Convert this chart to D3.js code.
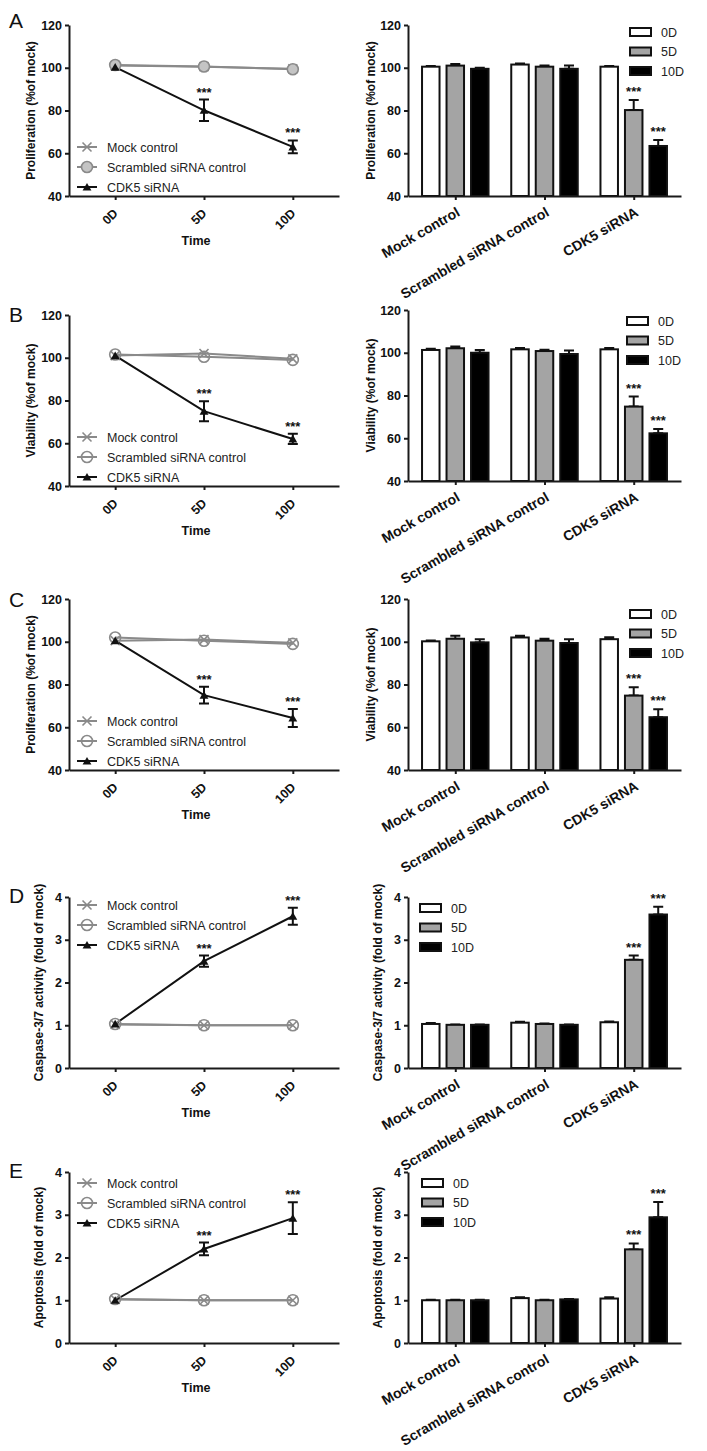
<!DOCTYPE html>
<html><head><meta charset="utf-8">
<script src="https://cdn.jsdelivr.net/npm/d3@7"></script>
<style>
body{margin:0;background:#fff;}
svg{display:block;font-family:"Liberation Sans",Arial,sans-serif;}
</style></head><body>
<svg id="chart" width="707" height="1451"></svg>
<script>
// ---------- data ----------
const times = ["0D", "5D", "10D"];
const groups = ["Mock control", "Scrambled siRNA control", "CDK5 siRNA"];
const seriesNames = ["Mock control", "Scrambled siRNA control", "CDK5 siRNA"];
const letters = ["A", "B", "C", "D", "E"];
const leftYLabels = ["Proliferation (%of mock)", "Viability (%of mock)", "Proliferation (%of mock)", "Caspase-3/7 activity (fold of mock)", "Apoptosis (fold of mock)"];
const rightYLabels = ["Proliferation (%of mock)", "Viability (%of mock)", "Viability (%of mock)", "Caspase-3/7 activity (fold of mock)", "Apoptosis (fold of mock)"];
const pctTicks = [40, 60, 80, 100, 120];
const foldTicks = [0, 1, 2, 3, 4];
const sigMarks = ["", "***", "***"]; // CDK5 siRNA vs control, per time point

// line charts: rows = [Mock, Scrambled, CDK5], cols = times
const lineA = [[101, 100.5, 99.5], [101.3, 100.6, 99.3], [100.3, 80.1, 63]];
const lineB = [[101, 102, 99.5], [101.5, 100.5, 99], [101, 75, 62]];
const lineC = [[100.5, 101, 99.5], [102, 100.5, 99], [100.5, 75, 64.3]];
const lineD = [[1.02, 1.0, 1.0], [1.03, 1.0, 1.0], [1.03, 2.5, 3.55]];
const lineE = [[1.02, 1.0, 1.0], [1.03, 1.0, 1.0], [1.0, 2.2, 2.92]];
// CDK5 siRNA error (SD) per time point
const lineErrA = [0, 5, 3];
const lineErrB = [0, 4.7, 2.4];
const lineErrC = [0, 3.9, 4.2];
const lineErrD = [0, 0.13, 0.2];
const lineErrE = [0, 0.15, 0.37];

// bar charts: rows = groups, cols = times
const barA = [[100.5, 101, 99.5], [101.5, 100.5, 99.5], [100.5, 80.2, 63.4]];
const barB = [[101.3, 102.1, 100], [101.6, 100.8, 99.4], [101.6, 74.8, 62.3]];
const barC = [[100.2, 101.4, 99.7], [102, 100.5, 99.4], [101.2, 74.8, 64.7]];
const barD = [[1.03, 1.01, 1.01], [1.06, 1.03, 1.01], [1.07, 2.53, 3.59]];
const barE = [[1.0, 1.0, 1.0], [1.05, 1.0, 1.02], [1.04, 2.19, 2.94]];
const barErrA = [[0.3, 0.8, 0.5], [0.5, 0.5, 1.5], [0.3, 4.7, 2.8]];
const barErrB = [[0.6, 0.8, 1.3], [0.6, 0.6, 1.6], [0.6, 4.7, 2.0]];
const barErrC = [[0.4, 1.4, 1.5], [0.8, 0.9, 1.8], [0.9, 3.9, 3.7]];
const barErrD = [[0.02, 0.01, 0.01], [0.02, 0.01, 0.01], [0.02, 0.1, 0.18]];
const barErrE = [[0.01, 0.01, 0.01], [0.02, 0.01, 0.01], [0.03, 0.14, 0.36]];

const lineSets = [lineA, lineB, lineC, lineD, lineE];
const lineErrSets = [lineErrA, lineErrB, lineErrC, lineErrD, lineErrE];
const barSets = [barA, barB, barC, barD, barE];
const barErrSets = [barErrA, barErrB, barErrC, barErrD, barErrE];
const foldPanels = [false, false, false, true, true];

// ---------- layout ----------
const svg = d3.select("#chart");
const leftX = [69, 339];
const rightX = [408, 681];
const leftTop = [25, 315, 599, 897, 1172];
const rightTop = [25, 310, 599, 897, 1172];
const plotH = 171;
const letterY = [28, 322, 607, 903, 1178];
const leftLegY = [147, 437, 721, 905, 1183];
const rightLegX = [630, 627, 630, 420, 422];
const rightLegY = [32, 321, 614, 908, 1183];
const GRAY = "#8a8a8a";
const lineColors = [GRAY, GRAY, "#111"];
const barFills = ["#ffffff", "#a4a4a4", "#000000"];
const AX = "#1a1a1a";

function styleAxis(sel) {
  sel.select(".domain").attr("stroke", AX).attr("stroke-width", 2);
  sel.selectAll(".tick line").attr("stroke", AX).attr("stroke-width", 2);
  sel.selectAll(".tick text").attr("fill", "#111").attr("font-size", 12.5).attr("font-weight", "bold")
    .attr("font-family", "'Liberation Sans', Arial, sans-serif");
}

function marker(g, type, cx, cy, fillCircle) {
  if (type === 0) {
    const s = 4.5;
    g.append("path").attr("d", `M${cx - s},${cy - s}L${cx + s},${cy + s}M${cx - s},${cy + s}L${cx + s},${cy - s}`)
      .attr("stroke", GRAY).attr("stroke-width", 1.6).attr("fill", "none");
  } else if (type === 1) {
    g.append("circle").attr("cx", cx).attr("cy", cy).attr("r", 5.5)
      .attr("fill", fillCircle).attr("stroke", GRAY).attr("stroke-width", 1.6);
  } else {
    g.append("path").attr("d", d3.symbol(d3.symbolTriangle, 34)())
      .attr("transform", `translate(${cx},${cy + 1})`).attr("fill", "#111");
  }
}

function errBar(g, x, y1, y2, cap) {
  g.append("path").attr("d", `M${x},${y1}V${y2}M${x - cap / 2},${y1}H${x + cap / 2}` + (y2 !== y1 ? `M${x - cap / 2},${y2}H${x + cap / 2}` : ""))
    .attr("stroke", "#111").attr("stroke-width", 2).attr("fill", "none");
}

function stars(g, x, y, txt) {
  g.append("text").attr("x", x).attr("y", y).attr("text-anchor", "middle")
    .attr("font-size", 13).attr("font-weight", "bold").attr("fill", "#111").text(txt);
}

function drawLinePanel(i) {
  const top = leftTop[i], bot = top + plotH, fold = foldPanels[i];
  const y = d3.scaleLinear().domain(fold ? [0, 4] : [40, 120]).range([bot, top]);
  const x = d3.scalePoint().domain(times).range(leftX).padding(0.52);
  const g = svg.append("g");

  // letter
  g.append("text").attr("x", 9).attr("y", letterY[i]).attr("font-size", 21).attr("fill", "#111").text(letters[i]);

  const ya = g.append("g").attr("transform", `translate(${leftX[0]},0)`)
    .call(d3.axisLeft(y).tickValues(fold ? foldTicks : pctTicks).tickFormat(d3.format("d"))
      .tickSize(4).tickSizeOuter(0).tickPadding(3));
  styleAxis(ya);
  const xa = g.append("g").attr("transform", `translate(0,${bot})`)
    .call(d3.axisBottom(x).tickSize(4).tickSizeOuter(0));
  styleAxis(xa);
  xa.selectAll(".tick text").attr("x", null).attr("y", null).attr("dy", null)
    .attr("text-anchor", "end").attr("transform", "translate(3,18) rotate(-45)");

  // y label
  const lx = leftX[0] - (fold ? 26 : 34);
  g.append("text").attr("transform", `translate(${lx},${(top + bot) / 2}) rotate(-90)`)
    .attr("text-anchor", "middle").attr("font-size", 12).attr("font-weight", "bold").attr("fill", "#111")
    .text(leftYLabels[i]);
  g.append("text").attr("x", (leftX[0] + leftX[1]) / 2 - 8).attr("y", bot + 49).attr("text-anchor", "middle")
    .attr("font-size", 12.5).attr("font-weight", "bold").attr("fill", "#111").text("Time");

  const data = lineSets[i], err = lineErrSets[i];
  const line = d3.line().x((d, k) => x(times[k])).y(d => y(d));
  data.forEach((s, si) => {
    g.append("path").attr("d", line(s)).attr("fill", "none").attr("stroke", lineColors[si]).attr("stroke-width", 2);
  });
  // error bars + stars for CDK5
  data[2].forEach((v, k) => {
    if (err[k] > 0) {
      errBar(g, x(times[k]), y(v + err[k]), y(v - err[k]), 10);
      stars(g, x(times[k]), y(v + err[k]) - 3, sigMarks[k]);
    }
  });
  const cf = i === 0 ? "#c4c4c4" : "none";
  data.forEach((s, si) => {
    s.forEach((v, k) => marker(g, si, x(times[k]), y(v), cf));
  });

  // legend
  seriesNames.forEach((name, si) => {
    const ly = leftLegY[i] + si * 20;
    g.append("line").attr("x1", 77).attr("x2", 97).attr("y1", ly).attr("y2", ly)
      .attr("stroke", lineColors[si]).attr("stroke-width", 2);
    marker(g, si, 87, ly, cf);
    g.append("text").attr("x", 107).attr("y", ly + 4.5).attr("font-size", 12.5).attr("fill", "#222").text(name);
  });
}

function drawBarPanel(i) {
  const top = rightTop[i], bot = top + plotH, fold = foldPanels[i];
  const y = d3.scaleLinear().domain(fold ? [0, 4] : [40, 120]).range([bot, top]);
  const xg = d3.scalePoint().domain(groups).range(rightX).padding(0.53);
  const xb = d3.scaleBand().domain(times).range([-33.25, 33.25]).paddingInner(0.2857);
  const g = svg.append("g");
  const data = barSets[i], err = barErrSets[i];

  data.forEach((row, gi) => {
    row.forEach((v, ti) => {
      const bx = xg(groups[gi]) + xb(times[ti]);
      const cx = bx + xb.bandwidth() / 2;
      const e = err[gi][ti];
      errBar(g, cx, y(v + e), y(v), 10);
      g.append("rect").attr("x", bx).attr("y", y(v)).attr("width", xb.bandwidth()).attr("height", bot - y(v))
        .attr("fill", barFills[ti]).attr("stroke", "#111").attr("stroke-width", 2);
      if (gi === 2 && sigMarks[ti]) stars(g, cx, y(v + e) - 4, sigMarks[ti]);
    });
  });

  const ya = g.append("g").attr("transform", `translate(${rightX[0]},0)`)
    .call(d3.axisLeft(y).tickValues(fold ? foldTicks : pctTicks).tickFormat(d3.format("d"))
      .tickSize(4).tickSizeOuter(0).tickPadding(3));
  styleAxis(ya);
  const xa = g.append("g").attr("transform", `translate(0,${bot})`)
    .call(d3.axisBottom(xg).tickSize(4).tickSizeOuter(0));
  styleAxis(xa);
  xa.selectAll(".tick text").attr("x", null).attr("y", null).attr("dy", null).attr("font-size", 14)
    .attr("text-anchor", "end").attr("transform", "translate(5,19) rotate(-30)");

  const lx = rightX[0] - (fold ? 26 : 33);
  g.append("text").attr("transform", `translate(${lx},${(top + bot) / 2}) rotate(-90)`)
    .attr("text-anchor", "middle").attr("font-size", 12).attr("font-weight", "bold").attr("fill", "#111")
    .text(rightYLabels[i]);

  times.forEach((t, ti) => {
    const ly = rightLegY[i] + ti * 19.5;
    g.append("rect").attr("x", rightLegX[i]).attr("y", ly - 4).attr("width", 21).attr("height", 8)
      .attr("fill", barFills[ti]).attr("stroke", "#111").attr("stroke-width", 2);
    g.append("text").attr("x", rightLegX[i] + 31).attr("y", ly + 4.5).attr("font-size", 12.5).attr("fill", "#222").text(t);
  });
}

for (let i = 0; i < 5; i++) { drawLinePanel(i); drawBarPanel(i); }
</script>
</body></html>
